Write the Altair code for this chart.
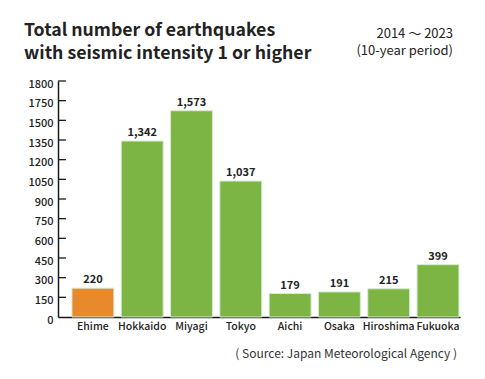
import altair as alt
import pandas as pd

prefectures = ["Ehime", "Hokkaido", "Miyagi", "Tokyo", "Aichi", "Osaka", "Hiroshima", "Fukuoka"]
counts = [220, 1342, 1573, 1037, 179, 191, 215, 399]
highlight = ["Ehime"]
y_ticks = [0, 150, 300, 450, 600, 750, 900, 1050, 1200, 1350, 1500, 1650, 1800]
y_tick_labels = ["0", "150", "300", "450", "600", "750", "900", "1050", "1200", "1350", "1500", "1750", "1800"]
title_lines = ["Total number of earthquakes", "with seismic intensity 1 or higher"]
period_lines = ["2014 ～ 2023", "(10-year period)"]
source_text = "( Source: Japan Meteorological Agency )"

FONT = "Noto Sans CJK JP"
INK = "#222222"

df = pd.DataFrame({
    "pref": prefectures,
    "count": counts,
    "label": [f"{c:,}" for c in counts],
    "hl": ["yes" if p in highlight else "no" for p in prefectures],
})
ticks_df = pd.DataFrame({"v": y_ticks[1:]})

label_expr = "{" + ",".join(f"'{v}':'{l}'" for v, l in zip(y_ticks, y_tick_labels)) + "}[datum.value]"

y_axis = alt.Axis(title=None, values=y_ticks, labelExpr=label_expr, ticks=False,
                  grid=False, domainColor="#1a1a1a", domainWidth=1.5,
                  labelFont=FONT, labelFontSize=11, labelColor=INK,
                  labelPadding=5, labelFontWeight=500, labelOverlap=False,
                  labelOffset=3, labelFlush=False, labelBound=False)
y_scale = alt.Scale(domain=[0, 1800], nice=False)

x = alt.X("pref:N", sort=prefectures,
          scale=alt.Scale(paddingInner=0.15, paddingOuter=0.152, align=0.93),
          axis=alt.Axis(title=None, labelAngle=0, ticks=False, domainColor="#1a1a1a",
                        domainWidth=1.5, labelFont=FONT, labelFontSize=10.5,
                        labelColor=INK, labelPadding=4, labelFontWeight=500))
y = alt.Y("count:Q", scale=y_scale, axis=y_axis)

bars = alt.Chart(df).mark_bar(stroke="#d8ead0", strokeWidth=1).encode(
    x=x, y=y,
    color=alt.Color("hl:N", scale=alt.Scale(domain=["yes", "no"], range=["#e8892b", "#7cb543"]),
                    legend=None),
)
labels = alt.Chart(df).mark_text(dy=-8, font=FONT, fontSize=11, fontWeight="bold",
                                 color=INK).encode(
    x=alt.X("pref:N", sort=prefectures), y=alt.Y("count:Q", scale=y_scale, axis=y_axis),
    text="label:N")

inner_ticks = alt.Chart(ticks_df).mark_rule(color="#1a1a1a", strokeWidth=1.3).encode(
    x=alt.value(0), x2=alt.value(8), y=alt.Y("v:Q", scale=y_scale, axis=y_axis))

def text_line(txt, xv, yv, align, size, weight="normal", color=INK, baseline="alphabetic"):
    return alt.Chart(pd.DataFrame({"t": [txt]})).mark_text(
        align=align, baseline=baseline, font=FONT, fontSize=size, fontWeight=weight,
        color=color).encode(x=alt.value(xv), y=alt.value(yv), text="t:N")

title1 = text_line(title_lines[0], -34, -45, "left", 17.7, "bold")
title2 = text_line(title_lines[1], -34, -22, "left", 17.7, "bold")
period1 = text_line(period_lines[0], 395, -47, "right", 13, baseline="middle")
period2 = text_line(period_lines[1], 395, -30, "right", 13, baseline="middle")
source = text_line(source_text, 399, 273, "right", 12, color="#333333", baseline="middle")

chart = alt.layer(bars, labels, inner_ticks, title1, title2, period1, period2, source).properties(
    width=402, height=236,
    autosize=alt.AutoSizeParams(type="none"),
    padding={"left": 50, "top": 73, "right": 17, "bottom": 54},
    background="#ffffff",
).configure_view(stroke=None)

chart.save("out.html", embed_options={"renderer": "svg", "actions": False})
